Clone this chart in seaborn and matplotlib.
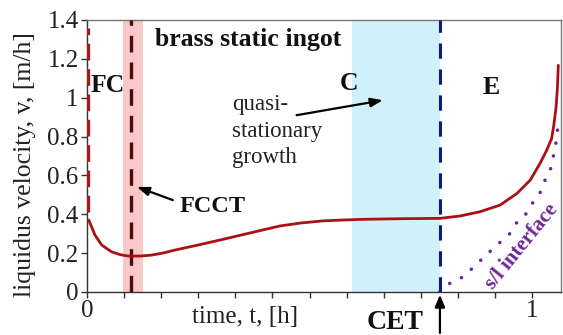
import numpy as np
import pandas as pd
import matplotlib
matplotlib.use("Agg")
import matplotlib.pyplot as plt
import seaborn as sns

# ---- data ----
t_curve = [0.004, 0.018, 0.033, 0.055, 0.075, 0.093, 0.12, 0.145, 0.17, 0.198,
           0.25, 0.3, 0.35, 0.4, 0.434, 0.48, 0.53, 0.569, 0.62, 0.7, 0.793, 0.838,
           0.883, 0.928, 0.966, 0.996, 1.018, 1.033, 1.044, 1.049, 1.054, 1.057, 1.059]
v_curve = [0.37, 0.293, 0.242, 0.207, 0.192, 0.185, 0.185, 0.19, 0.2, 0.216,
           0.242, 0.268, 0.295, 0.322, 0.34, 0.355, 0.366, 0.37, 0.374, 0.377, 0.379, 0.391,
           0.413, 0.447, 0.507, 0.576, 0.662, 0.73, 0.79, 0.86, 0.953, 1.05, 1.167]

t_sl = [0.793, 0.816, 0.846, 0.913, 0.951, 0.969, 0.988, 1.003, 1.018, 1.025, 1.04,
        1.052, 1.058]
v_sl = [0.0, 0.046, 0.079, 0.225, 0.302, 0.37, 0.405, 0.465, 0.51, 0.559, 0.618,
        0.739, 0.85]

fc_t = [0.002, 0.002]
fc_v = [0.41, 1.36]
fcct_t = 0.1
fcct_band = [0.082, 0.126]
cet_t = 0.793
c_band = [0.595, 0.793]

y_ticks = [0, 0.2, 0.4, 0.6, 0.8, 1, 1.2, 1.4]
y_ticklabels = ["0", "0.2", "0.4", "0.6", "0.8", "1", "1.2", "1.4"]
x_ticks = [k / 12 for k in range(13)]
x_ticklabels = ["0"] + [""] * 11 + ["1"]

sns.set_theme(style="ticks")
plt.rcParams["font.family"] = ["Liberation Serif", "DejaVu Serif"]

fig = plt.figure(figsize=(5.63, 3.35), dpi=100)
ax = fig.add_axes([0.1545, 0.1284, 0.8419, 0.8119])

ax.axvspan(*fcct_band, color="#f9c9c9", lw=0, zorder=0)
ax.axvspan(*c_band, color="#cff1fc", lw=0, zorder=0)

df_curve = pd.DataFrame({"t": t_curve, "v": v_curve})
df_sl = pd.DataFrame({"t": t_sl, "v": v_sl})
sns.lineplot(data=df_curve, x="t", y="v", ax=ax, color="#aa1014", lw=2.0,
             sort=False, estimator=None, zorder=4)
sns.lineplot(data=df_sl, x="t", y="v", ax=ax, color="#6f2599", lw=2.6,
             sort=False, estimator=None, zorder=3,
             linestyle=(0, (0.01, 3.6)), dash_capstyle="round")

ax.plot(fc_t, fc_v, color="#a81a1a", lw=2.4, linestyle=(0, (5, 2.6)), zorder=3)
ax.axvline(fcct_t, color="#4a0c0c", lw=2.4, linestyle=(0, (5, 3)), zorder=3)
ax.axvline(cet_t, color="#0c1a8c", lw=2.2, linestyle=(0, (5, 3.5)), zorder=3)

ax.set_xlim(0, 1.065)
ax.set_ylim(0, 1.4)
ax.set_yticks(y_ticks)
ax.set_yticklabels(y_ticklabels)
ax.set_xticks(x_ticks)
ax.set_xticklabels(x_ticklabels)
ax.tick_params(axis="both", labelsize=18, length=4.5, width=1.0, color="#333333",
               pad=1.5, labelcolor="#222222")
ax.set_xlabel("")
ax.set_ylabel("")
for s in ["left", "bottom"]:
    ax.spines[s].set_color("#333333")
    ax.spines[s].set_linewidth(1.0)
for s in ["top", "right"]:
    ax.spines[s].set_visible(True)
    ax.spines[s].set_color("#777777")
    ax.spines[s].set_linewidth(1.0)

fig.text(0.044, 0.51, "liquidus velocity, v, [m/h]", rotation=90, ha="center",
         va="center", fontsize=18.5, color="#222222")

ax.text(0.235, -0.159, "time, t, [h]", fontsize=18, ha="left", va="baseline",
        clip_on=False, color="#222222")
ax.text(0.628, -0.19, "CET", fontsize=20, fontweight="bold", ha="left",
        va="baseline", clip_on=False, color="#111111")
ax.annotate("", xy=(cet_t, 0.0), xytext=(cet_t, -0.225), annotation_clip=False,
            arrowprops=dict(arrowstyle="-|>,head_length=0.6,head_width=0.25",
                            color="black", lw=1.6))

ax.text(0.153, 1.265, "brass static ingot", fontsize=18.5, fontweight="bold",
        ha="left", va="baseline", color="#111111")
ax.text(0.008, 1.03, "FC", fontsize=18.5, fontweight="bold", ha="left",
        va="baseline", color="#111111", zorder=6)
ax.text(0.569, 1.04, "C", fontsize=18.5, fontweight="bold", ha="left",
        va="baseline", color="#111111")
ax.text(0.888, 1.018, "E", fontsize=18.5, fontweight="bold", ha="left",
        va="baseline", color="#111111")

for line, yv in zip(["quasi-", "stationary", "growth"], [0.936, 0.799, 0.663]):
    ax.text(0.325, yv, line, fontsize=16.5, ha="left", va="baseline", color="#222222")
ax.annotate("", xy=(0.665, 0.987), xytext=(0.471, 0.91),
            arrowprops=dict(arrowstyle="-|>,head_length=0.6,head_width=0.22",
                            color="black", lw=1.6, shrinkA=0, shrinkB=0))

ax.text(0.209, 0.41, "FCCT", fontsize=17.5, fontweight="bold", ha="left",
        va="baseline", color="#111111")
ax.annotate("", xy=(0.112, 0.541), xytext=(0.193, 0.473),
            arrowprops=dict(arrowstyle="-|>,head_length=0.6,head_width=0.22",
                            color="black", lw=1.6, shrinkA=0, shrinkB=0))

ax.text(0.977, 0.232, "s/l interface", fontsize=15, fontweight="bold",
        color="#6f2599", rotation=51, ha="center", va="center", rotation_mode="anchor")

fig.savefig("out.png", dpi=100)
